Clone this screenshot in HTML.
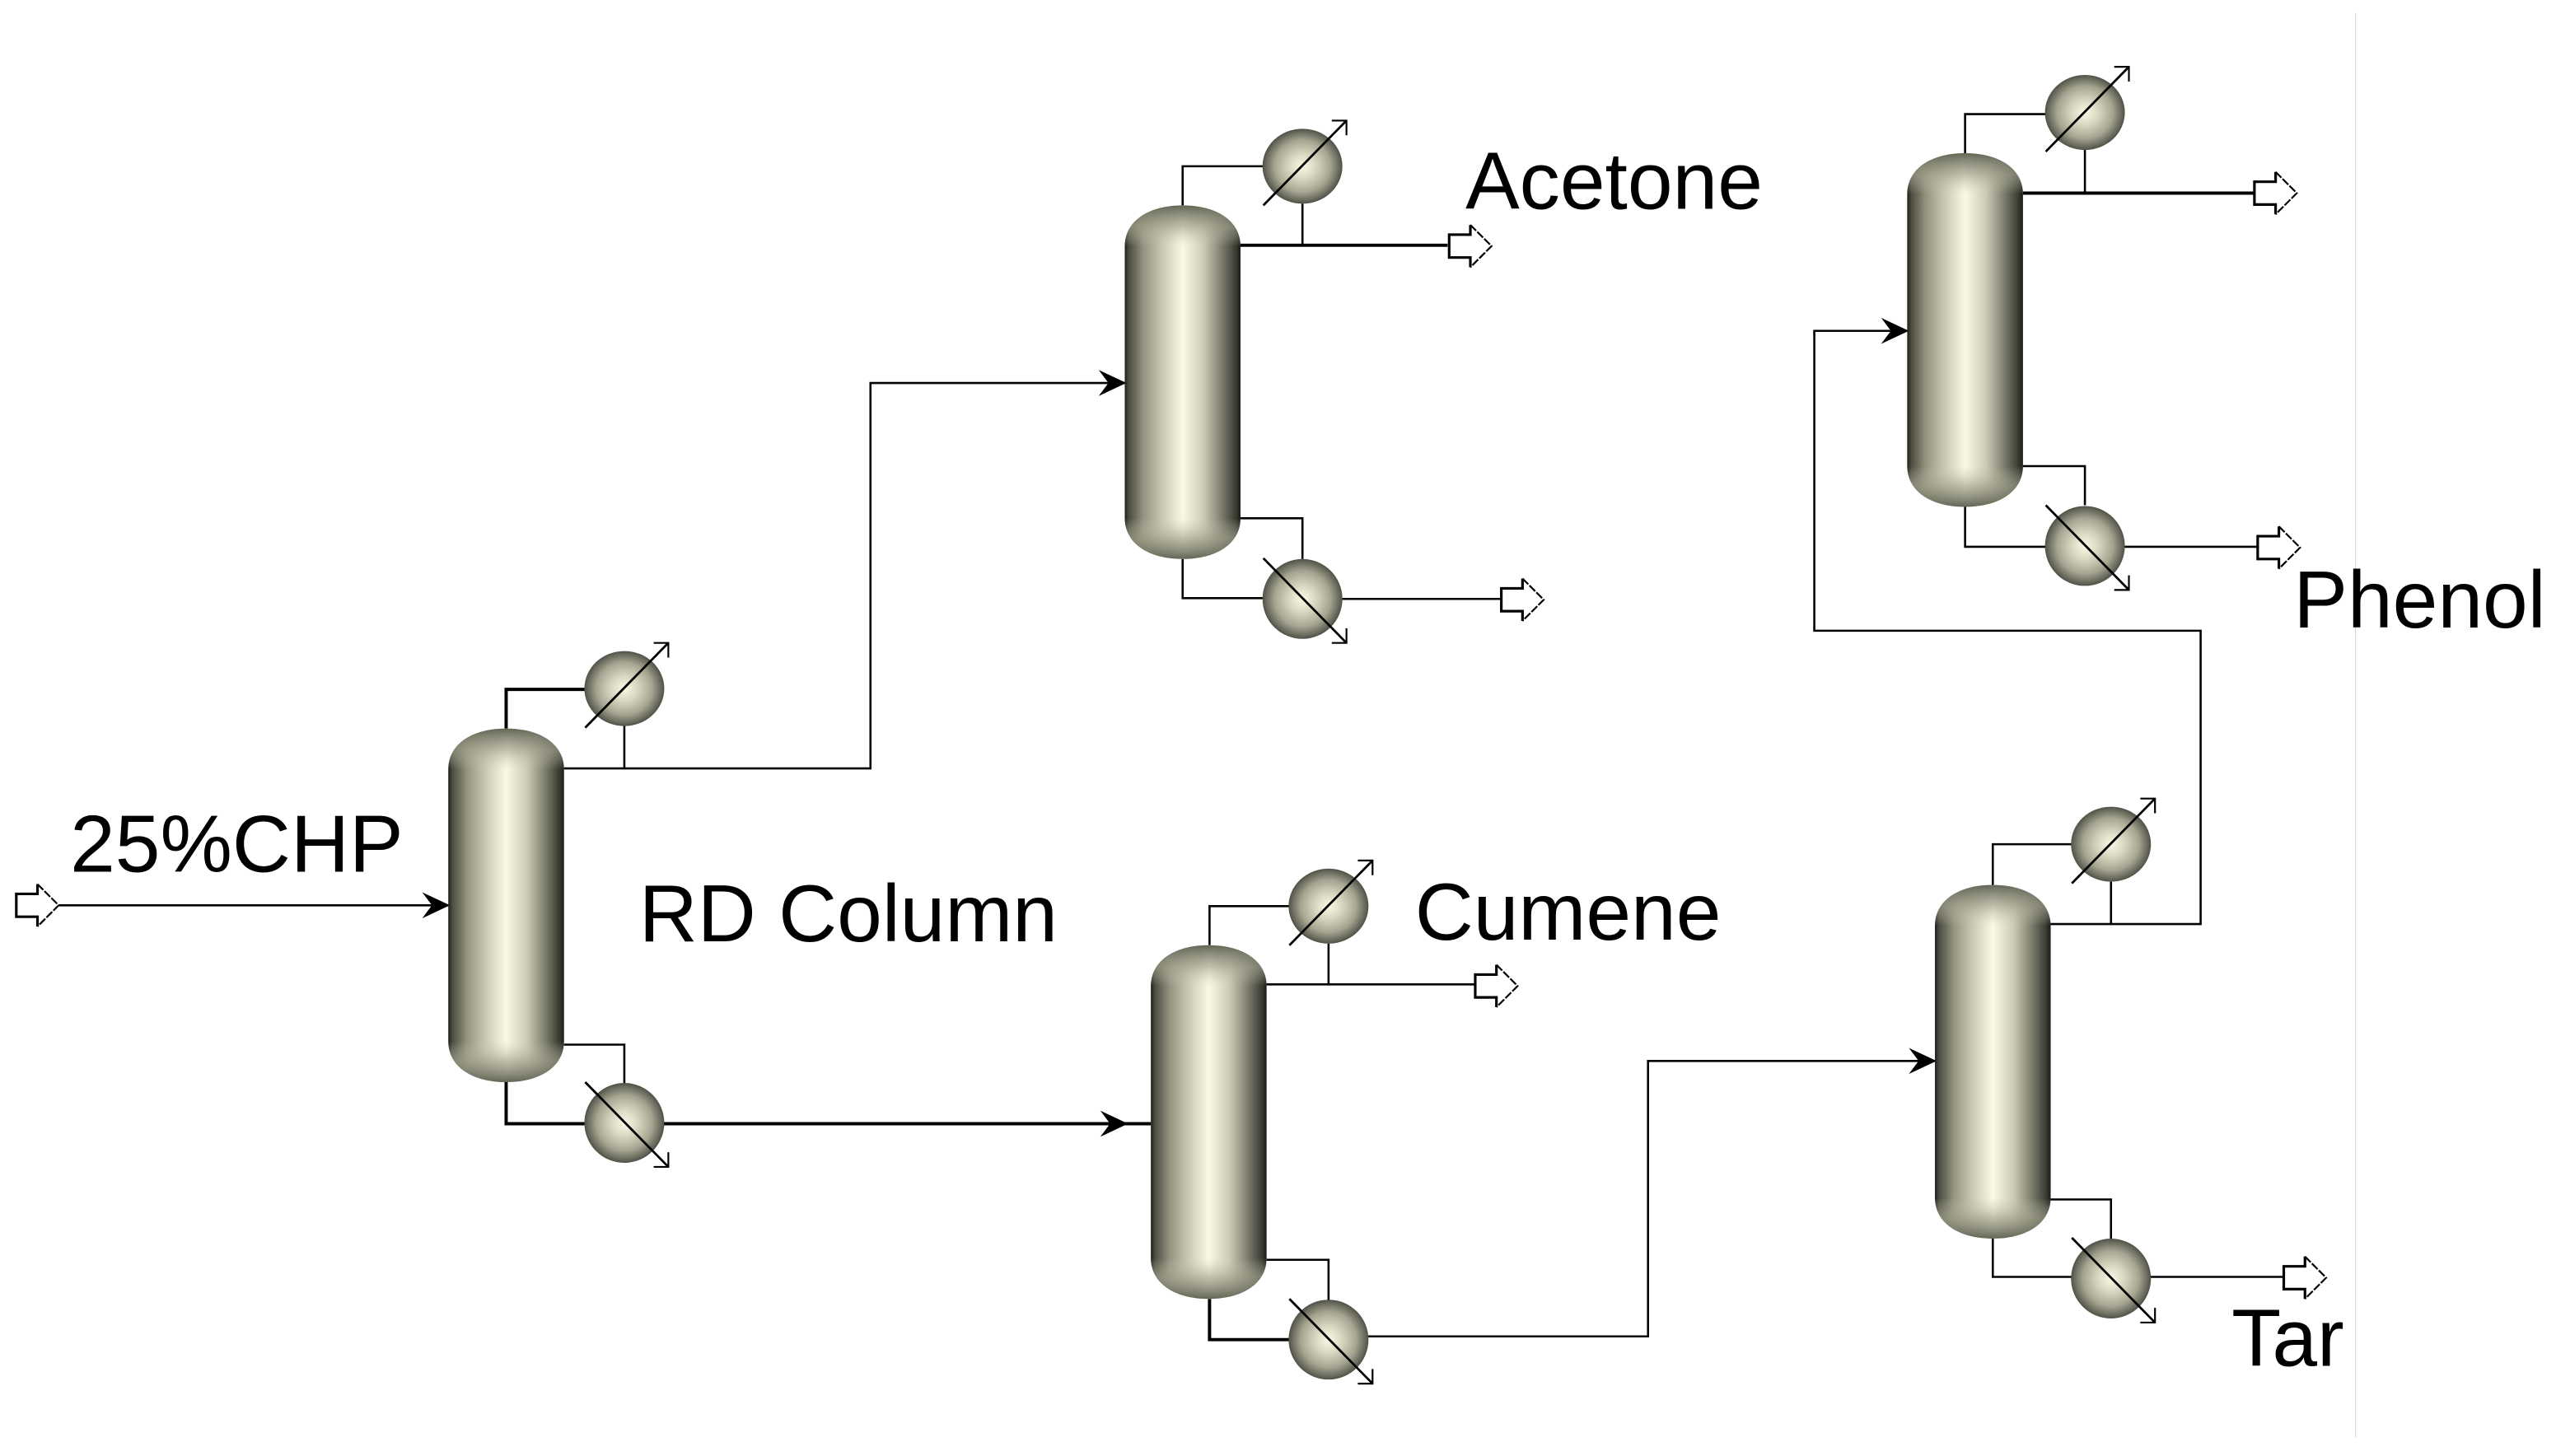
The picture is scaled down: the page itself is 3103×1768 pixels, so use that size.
<!DOCTYPE html>
<html>
<head>
<meta charset="utf-8">
<style>
html,body{margin:0;padding:0;background:#fff;width:3103px;height:1768px;overflow:hidden}
svg{display:block;position:absolute;left:0;top:0}
text{font-family:"Liberation Sans",sans-serif;font-size:49.7px;fill:#000}
.s{fill:none;stroke:#000;stroke-width:1.3}
.t{fill:none;stroke:#000;stroke-width:2}
.d{fill:none;stroke:#000;stroke-width:1.1}
</style>
</head>
<body>
<svg width="3103" height="1768" viewBox="0 0 1568 893.4" preserveAspectRatio="none" xmlns="http://www.w3.org/2000/svg">
<defs>
<linearGradient id="h" x1="0" x2="1" y1="0" y2="0">
<stop offset="0" stop-color="#1e1e18"/>
<stop offset=".035" stop-color="#4c4c42"/>
<stop offset=".16" stop-color="#93937f"/>
<stop offset=".32" stop-color="#c8c8b2"/>
<stop offset=".5" stop-color="#f9f9e6"/>
<stop offset=".68" stop-color="#cbcbb5"/>
<stop offset=".84" stop-color="#7c7c6c"/>
<stop offset=".96" stop-color="#3a3a32"/>
<stop offset="1" stop-color="#1c1c16"/>
</linearGradient>
<linearGradient id="v" x1="0" x2="0" y1="0" y2="1">
<stop offset="0" stop-color="#5e5e50" stop-opacity=".95"/>
<stop offset=".06" stop-color="#a0a08c" stop-opacity=".65"/>
<stop offset=".115" stop-color="#c8c8b2" stop-opacity="0"/>
<stop offset=".885" stop-color="#c8c8b2" stop-opacity="0"/>
<stop offset=".94" stop-color="#a0a08c" stop-opacity=".65"/>
<stop offset="1" stop-color="#5e5e50" stop-opacity=".95"/>
</linearGradient>
<radialGradient id="b" cx=".5" cy=".5" r=".5">
<stop offset="0" stop-color="#f9f9e6"/>
<stop offset=".35" stop-color="#d6d6c0"/>
<stop offset=".7" stop-color="#a4a490"/>
<stop offset=".92" stop-color="#68685c"/>
<stop offset="1" stop-color="#505046"/>
</radialGradient>
<path id="cp" d="M0,25 C0,10 14,0 35.5,0 C57,0 71,10 71,25 L71,192 C71,207 57,217 35.5,217 C14,217 0,207 0,192 Z"/>
<g id="col">
<use href="#cp" fill="url(#h)"/>
<use href="#cp" fill="url(#v)"/>
</g>
<g id="arrowIn"><path d="M-16,-8 L1,0 L-16,8 L-10,0 Z" fill="#000"/></g>
<g id="out">
<path d="M0,-7 L13,-7 L13,-13 L26,0 L13,13 L13,7 L0,7 Z" fill="#fff"/>
<path d="M13,-13 L13,-7 L0,-7 L0,7 L13,7 L13,13" class="t" style="stroke-width:1.6"/>
<path d="M13,-13 L26,0 L13,13" class="d" stroke-dasharray="5 1"/>
</g>
<g id="cond">
<ellipse cx="0" cy="0" rx="24.5" ry="23" fill="url(#b)"/>
<path d="M-24,24 L27,-28" class="d" style="stroke-width:1.4"/>
<path d="M18,-28 L27,-28 L27,-19" class="d"/>
</g>
<g id="reb">
<ellipse cx="0" cy="0" rx="24.5" ry="24.5" fill="url(#b)"/>
<path d="M-24,-25 L27,27" class="d" style="stroke-width:1.4"/>
<path d="M18,27 L27,27 L27,18" class="d"/>
</g>
</defs>

<line x1="1445" y1="8" x2="1445" y2="882" stroke="#dcdcdc" stroke-width=".7"/>

<!-- Streams -->
<path class="s" d="M36,555.5 L275,555.5"/>
<path class="s" d="M346,471.5 L534,471.5 L534,235 L690,235"/>
<path class="t" d="M407,689.5 L706,689.5"/>
<path class="t" d="M761,150.5 L888,150.5"/>
<path class="s" d="M823,367.5 L921,367.5"/>
<path class="s" d="M777,604 L905,604"/>
<path class="s" d="M839,820 L1011,820 L1011,651 L1187,651"/>
<path class="s" d="M1258,567 L1350,567 L1350,387 L1113,387 L1113,203 L1170,203"/>
<path class="t" d="M1241,118.5 L1383,118.5"/>
<path class="s" d="M1303,335.5 L1385,335.5"/>
<path class="s" d="M1319,783.5 L1401,783.5"/>

<!-- Column 1 loops -->
<path class="t" d="M310.5,447 L310.5,423 L360,423"/>
<path class="s" d="M383,445 L383,471"/>
<path class="s" d="M346,641 L383,641 L383,665"/>
<path class="t" d="M310.5,664 L310.5,689.5 L360,689.5"/>
<!-- Column 2 loops -->
<path class="s" d="M725.5,127 L725.5,102 L775,102"/>
<path class="s" d="M799,125 L799,150"/>
<path class="s" d="M761,318 L799,318 L799,343"/>
<path class="s" d="M725.5,343 L725.5,367 L775,367"/>
<!-- Column 3 loops -->
<path class="s" d="M742,580 L742,556 L791,556"/>
<path class="s" d="M815,579 L815,604"/>
<path class="s" d="M777,773 L815,773 L815,798"/>
<path class="t" d="M742,797 L742,822 L791,822"/>
<!-- Column 4 loops -->
<path class="s" d="M1222.5,543 L1222.5,518 L1271,518"/>
<path class="s" d="M1295,541 L1295,567"/>
<path class="s" d="M1258,736 L1295,736 L1295,760"/>
<path class="s" d="M1222.5,760 L1222.5,783.5 L1271,783.5"/>
<!-- Column 5 loops -->
<path class="s" d="M1205.5,94 L1205.5,70 L1255,70"/>
<path class="s" d="M1279,92 L1279,118"/>
<path class="s" d="M1241,286 L1279,286 L1279,310"/>
<path class="s" d="M1205.5,310 L1205.5,335.5 L1255,335.5"/>

<!-- Arrowheads -->
<use href="#arrowIn" x="275" y="555.5"/>
<use href="#arrowIn" x="690" y="235"/>
<use href="#arrowIn" x="691" y="689.5"/>
<use href="#arrowIn" x="1187" y="651"/>
<use href="#arrowIn" x="1170" y="203"/>

<!-- Outlets -->
<use href="#out" x="10" y="555.5"/>
<use href="#out" x="889" y="151"/>
<use href="#out" x="921" y="368"/>
<use href="#out" x="905" y="605"/>
<use href="#out" x="1383" y="118.5"/>
<use href="#out" x="1385" y="336"/>
<use href="#out" x="1401" y="784"/>

<!-- Columns -->
<use href="#col" x="275" y="447"/>
<use href="#col" x="690" y="126"/>
<use href="#col" x="706" y="580"/>
<use href="#col" x="1187" y="543"/>
<use href="#col" x="1170" y="94"/>

<!-- Exchangers -->
<use href="#cond" x="383" y="422.5"/>
<use href="#reb" x="383" y="689"/>
<use href="#cond" x="799" y="102"/>
<use href="#reb" x="799" y="367.5"/>
<use href="#cond" x="815" y="556"/>
<use href="#reb" x="815" y="822"/>
<use href="#cond" x="1295" y="518"/>
<use href="#reb" x="1295" y="784.5"/>
<use href="#cond" x="1279" y="69"/>
<use href="#reb" x="1279" y="335"/>

<!-- Labels -->
<text x="43" y="535">25%CHP</text>
<text x="392" y="577.5">RD Column</text>
<text x="899" y="128">Acetone</text>
<text x="868" y="576.5">Cumene</text>
<text x="1407" y="385">Phenol</text>
<text x="1369" y="838">Tar</text>
</svg>
</body>
</html>
